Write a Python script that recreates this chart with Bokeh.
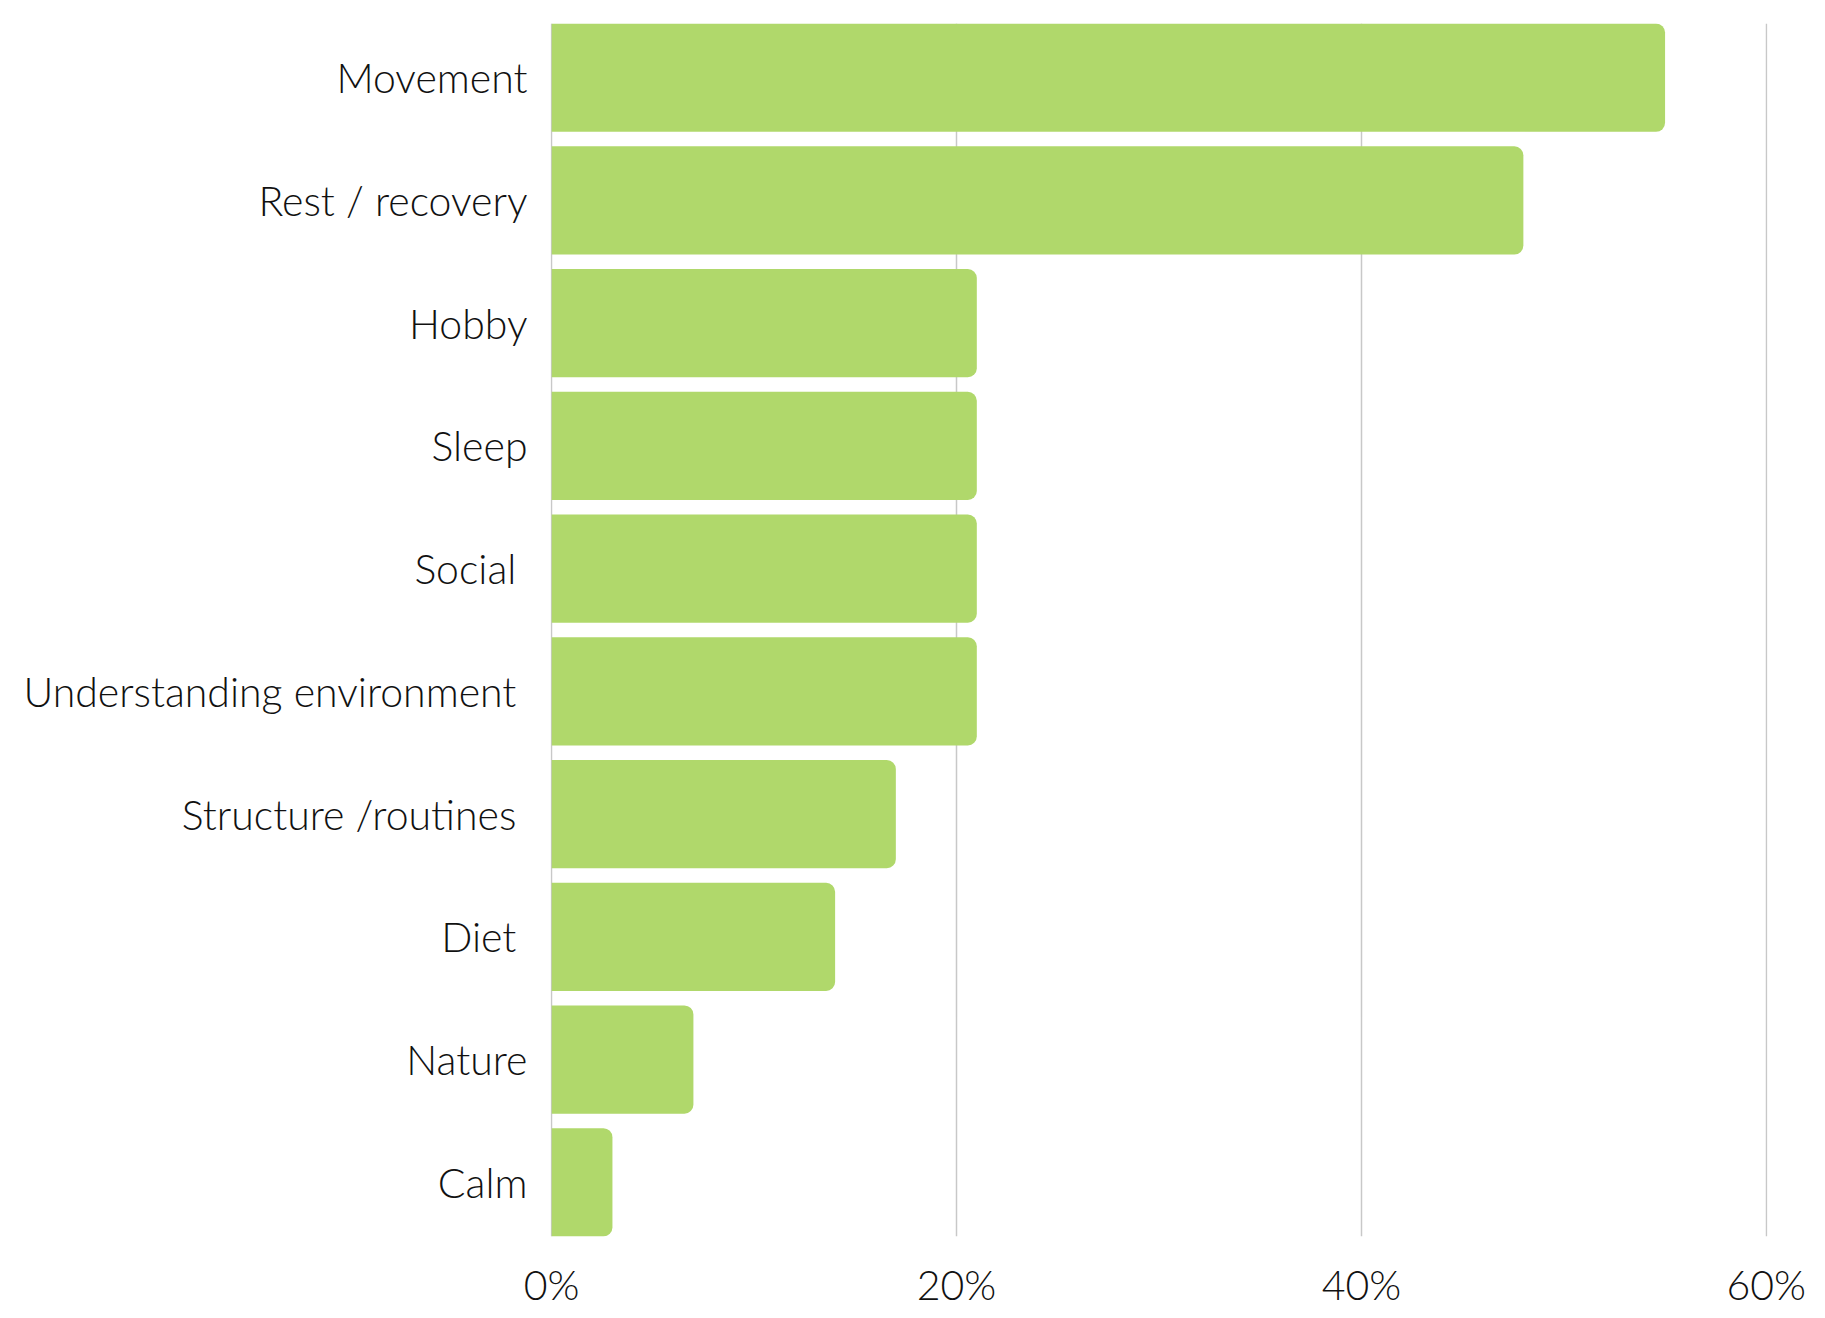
from bokeh.plotting import figure
from bokeh.models import ColumnDataSource, FactorRange, Range1d, FixedTicker, PrintfTickFormatter
from bokeh.embed import file_html
from bokeh.resources import INLINE

categories = ["Movement", "Rest / recovery", "Hobby", "Sleep", "Social ",
              "Understanding environment ", "Structure /routines ", "Diet ",
              "Nature", "Calm"]
values = [55, 48, 21, 21, 21, 21, 17, 14, 7, 3]
x_ticks = [0, 20, 40, 60]

FONT = "Lato Light"

src = ColumnDataSource(dict(cat=categories, val=values))

p = figure(width=1825, height=1318, output_backend="svg", toolbar_location=None,
           y_range=FactorRange(factors=list(reversed(categories)),
                               range_padding=-0.0118, range_padding_units="percent"),
           x_range=Range1d(-0.06, 60.06),
           min_border_left=550, min_border_right=58, min_border_top=23, min_border_bottom=82)

p.hbar(y="cat", right="val", left=0, height=0.882, source=src,
       fill_color="#B0D86B", line_color=None, border_radius=(0, 9, 9, 0))

p.outline_line_color = None
p.background_fill_color = "white"
p.border_fill_color = "white"

p.ygrid.grid_line_color = None
p.xgrid.grid_line_color = "#c8c8c8"
p.xgrid.grid_line_width = 1.5
p.xgrid.ticker = FixedTicker(ticks=x_ticks)
p.xgrid.level = "underlay"

xa = p.xaxis[0]
xa.ticker = FixedTicker(ticks=x_ticks)
xa.formatter = PrintfTickFormatter(format="%d%%")
xa.axis_line_color = None
xa.major_tick_line_color = None
xa.minor_tick_line_color = None
xa.major_label_text_font = FONT
xa.major_label_text_font_size = "41px"
xa.major_label_text_color = "#111111"
xa.major_label_standoff = 17

ya = p.yaxis[0]
ya.axis_line_color = None
ya.major_tick_line_color = None
ya.minor_tick_line_color = None
ya.major_label_text_font = FONT
ya.major_label_text_font_size = "41px"
ya.major_label_text_color = "#111111"
ya.major_label_standoff = 17

open("out.html", "w").write(file_html(p, INLINE))
